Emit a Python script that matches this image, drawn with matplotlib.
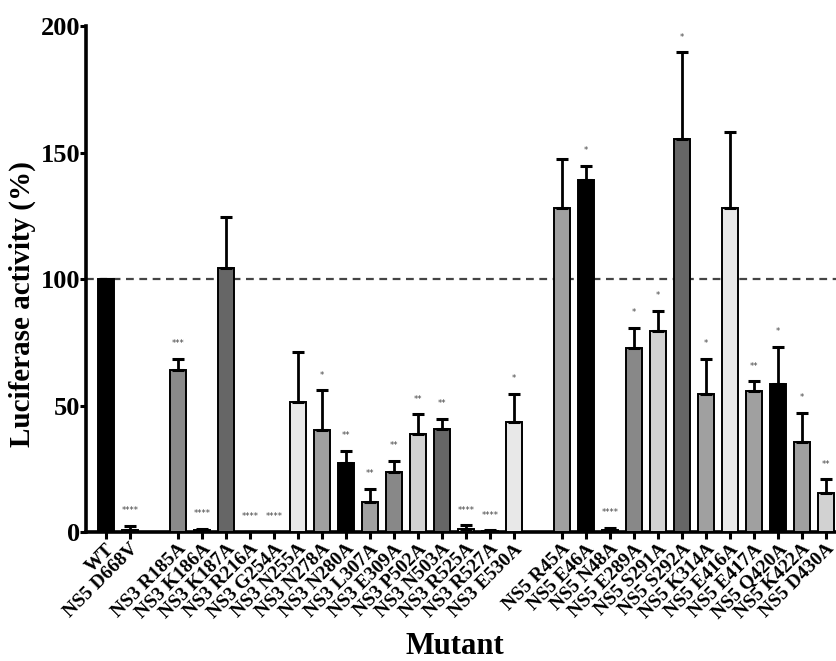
import matplotlib
matplotlib.use("Agg")
import matplotlib.pyplot as plt

labels = ["WT", "NS5 D668V",
          "NS3 R185A", "NS3 K186A", "NS3 K187A", "NS3 R216A", "NS3 G254A", "NS3 N255A",
          "NS3 N278A", "NS3 N280A", "NS3 L307A", "NS3 E309A", "NS3 P502A", "NS3 N503A",
          "NS3 R525A", "NS3 R527A", "NS3 E530A",
          "NS5 R45A", "NS5 E46A", "NS5 N48A", "NS5 E289A", "NS5 S291A", "NS5 S292A",
          "NS5 K314A", "NS5 E416A", "NS5 E417A", "NS5 Q420A", "NS5 K422A", "NS5 D430A"]
positions = [0, 1,
             3, 4, 5, 6, 7, 8, 9, 10, 11, 12, 13, 14, 15, 16, 17,
             19, 20, 21, 22, 23, 24, 25, 26, 27, 28, 29, 30]
values = [100, 1.0,
          64.0, 0.8, 104.5, 0, 0, 51.5, 40.5, 27.2, 11.8, 23.8, 38.8, 40.6, 1.4, 0.3, 43.5,
          128.0, 139.0, 1.0, 72.8, 79.5, 155.2, 54.6, 128.0, 55.7, 58.7, 35.8, 15.3]
errors = [0, 1.6,
          4.4, 0.4, 20.0, 0, 0, 19.6, 15.5, 4.8, 5.3, 4.4, 7.7, 4.2, 1.3, 0.4, 11.2,
          19.4, 5.6, 0.6, 7.8, 7.9, 34.4, 14.0, 30.3, 3.9, 14.4, 11.3, 5.6]
stars = ["", "****",
         "***", "****", "", "****", "****", "", "*", "**", "**", "**", "**", "**",
         "****", "****", "*",
         "", "*", "****", "*", "*", "*", "*", "", "**", "*", "*", "**"]
colors = ["#000000", "#d8d8d8",
          "#8a8a8a", "#666666", "#666666", "#ffffff", "#ffffff", "#e8e8e8", "#a0a0a0",
          "#000000", "#a0a0a0", "#888888", "#d2d2d2", "#666666", "#e8e8e8", "#cfcfcf",
          "#e8e8e8",
          "#a0a0a0", "#000000", "#888888", "#888888", "#d2d2d2", "#666666", "#a0a0a0",
          "#e8e8e8", "#a0a0a0", "#000000", "#a0a0a0", "#d2d2d2"]

serif = ["Liberation Serif", "DejaVu Serif"]
plt.rcParams["font.family"] = serif

fig = plt.figure(figsize=(8.37, 6.61), dpi=100)
ax = fig.add_axes([0.1027, 0.195, 0.8973, 0.7657])

ax.bar(positions, values, width=0.66, color=colors, edgecolor="black", linewidth=1.4, zorder=3)
ax.errorbar(positions, values, yerr=[[0] * len(errors), errors], fmt="none",
            ecolor="black", elinewidth=2, capsize=4, capthick=2.2, zorder=4)
for x, v, e, s in zip(positions, values, errors, stars):
    if s:
        ax.text(x, v + e + 6, s, ha="center", va="center", fontsize=6,
                color="#444444", family=["DejaVu Sans"])

ax.axhline(100, color="#444444", linestyle=(0, (3.5, 2.5)), linewidth=1.6, zorder=2)

ax.set_xlim(-0.83, 30.46)
ax.set_ylim(0, 200)
ax.set_yticks([0, 50, 100, 150, 200])
ax.set_xticks(positions)
ax.set_xticklabels(labels, rotation=45, ha="right", rotation_mode="anchor",
                   fontsize=14, fontweight="bold")
for lab in ax.get_yticklabels():
    lab.set_fontsize(19)
    lab.set_fontweight("bold")

for side in ["top", "right"]:
    ax.spines[side].set_visible(False)
for side in ["left", "bottom"]:
    ax.spines[side].set_linewidth(2.6)
ax.tick_params(axis="x", direction="out", width=2.2, length=5, pad=1)
ax.tick_params(axis="y", direction="out", width=2.2, length=4, pad=0)

ax.set_ylabel("Luciferase activity (%)", fontsize=21, fontweight="bold")
ax.yaxis.set_label_coords(-0.066, 0.45)
fig.text(455 / 837, 1 - 647 / 661, "Mutant", ha="center", va="center",
         fontsize=22, fontweight="bold")

fig.savefig("out.png", dpi=100)
